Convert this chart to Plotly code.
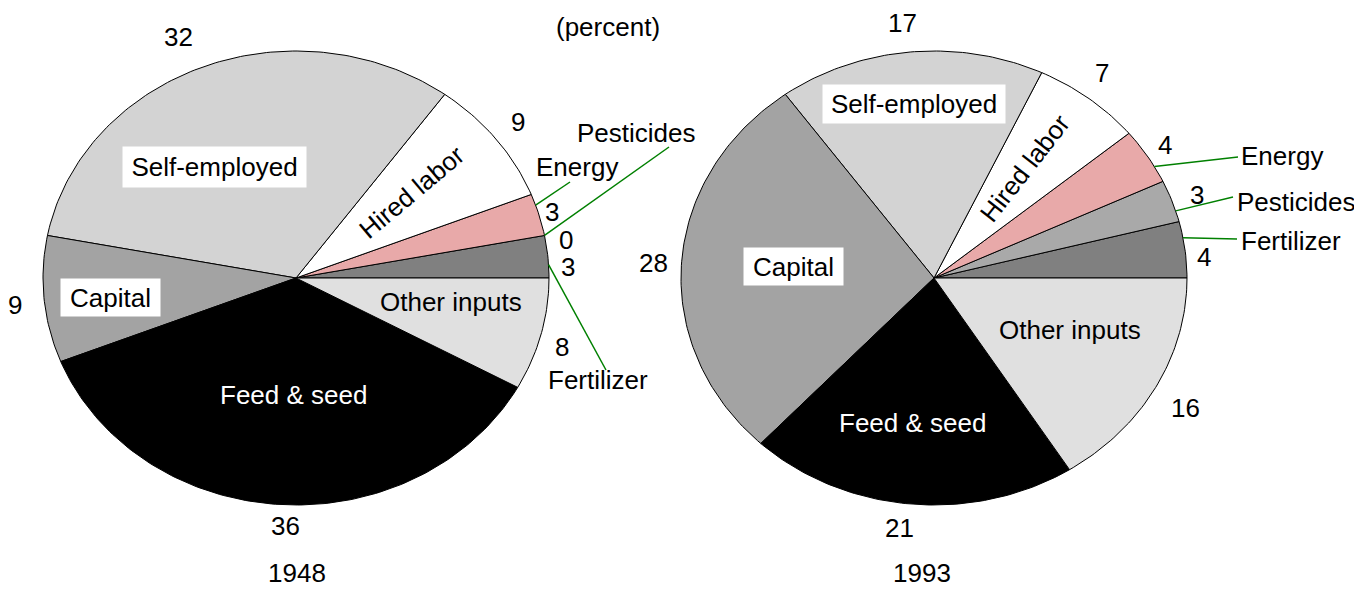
import math
import plotly.graph_objects as go

# ---------------- data ----------------
categories = ["Fertilizer", "Pesticides", "Energy", "Hired labor",
              "Self-employed", "Capital", "Feed & seed", "Other inputs"]
shares_1948 = [3, 0, 3, 9, 32, 9, 36, 8]
shares_1993 = [4, 3, 4, 7, 17, 28, 21, 16]
year_labels = ["1948", "1993"]
unit_label = "(percent)"

# ---------------- style / layout ----------------
W, H = 1362, 589
OFF = 8  # page body margin of the html page
FONT = "Arial, 'Liberation Sans', sans-serif"
FS = 26
slice_colors = ["#808080", "#a9a9a9", "#e8a9a9", "#ffffff",
                "#d3d3d3", "#a3a3a3", "#000000", "#e0e0e0"]
pies = [dict(cx=296, cy=278, rx=253, ry=227),
        dict(cx=934, cy=278, rx=253, ry=227)]
year_x = [297, 922]
unit_pos = (608, 27)
value_gap = 28
value_nudge = [
    {"Fertilizer": (-8, 13), "Pesticides": (-6, 10), "Energy": (-14, 5),
     "Hired labor": (0, 0), "Self-employed": (-14, -4), "Capital": (-1, 3),
     "Feed & seed": (7, -7), "Other inputs": (-6, 6)},
    {"Fertilizer": (-9, 11), "Pesticides": (-1, 3), "Energy": (-6, 4),
     "Hired labor": (-4, -4), "Self-employed": (-5, -1), "Capital": (0, 1),
     "Feed & seed": (-8, -4), "Other inputs": (5, 7)},
]
# name label styles per pie
name_styles = [
    {
        "Self-employed": dict(kind="box", x=214, y=167, w=183, h=40),
        "Capital": dict(kind="box", x=110, y=297, w=99, h=37),
        "Other inputs": dict(kind="plain", x=451, y=302, color="black"),
        "Feed & seed": dict(kind="plain", x=293, y=395, color="white"),
        "Hired labor": dict(kind="rot", x=412, y=192, angle=-40),
        "Energy": dict(kind="call", x=534, y=167, lx=570, ly=182, da=2.5),
        "Pesticides": dict(kind="call", x=575, y=133, lx=669, ly=147, da=0),
        "Fertilizer": dict(kind="call", x=546, y=380, lx=606, ly=370, da=-2),
    },
    {
        "Self-employed": dict(kind="box", x=914, y=104, w=182, h=38),
        "Capital": dict(kind="box", x=793, y=266, w=99, h=37),
        "Other inputs": dict(kind="plain", x=1070, y=330, color="black"),
        "Feed & seed": dict(kind="plain", x=912, y=423, color="white"),
        "Hired labor": dict(kind="rot", x=1025, y=168, angle=-52),
        "Energy": dict(kind="call", x=1239, y=156, lx=1238, ly=157, da=-3),
        "Pesticides": dict(kind="call", x=1235, y=202, lx=1233, ly=197, da=-2.6),
        "Fertilizer": dict(kind="call", x=1239, y=241, lx=1237, ly=239, da=3),
    },
]
LEADER_COLOR = "#008000"


def edge(p, ang, extra=0.0):
    r = math.radians(ang)
    return (p["cx"] + (p["rx"] + extra) * math.cos(r),
            p["cy"] - (p["ry"] + extra) * math.sin(r))


fig = go.Figure()
annotations = []
shapes = []

for pi, shares in enumerate([shares_1948, shares_1993]):
    p = pies[pi]
    total = float(sum(shares))
    start = 0.0
    for ci, (cat, v) in enumerate(zip(categories, shares)):
        span = 360.0 * v / total
        a0, a1 = start, start + span
        mid = (a0 + a1) / 2
        start = a1
        if v > 0:
            n = max(2, int(math.ceil(span / 1.0)) + 1)
            xs, ys = [p["cx"]], [p["cy"]]
            for k in range(n):
                ex, ey = edge(p, a0 + span * k / (n - 1))
                xs.append(ex)
                ys.append(ey)
            xs.append(p["cx"])
            ys.append(p["cy"])
            fig.add_trace(go.Scatter(
                x=xs, y=ys, mode="lines", fill="toself",
                fillcolor=slice_colors[ci],
                line=dict(color="black", width=1),
                hoverinfo="skip", showlegend=False))
        # value label
        vx, vy = edge(p, mid, value_gap)
        nx, ny = value_nudge[pi][cat]
        annotations.append(dict(
            x=vx + nx, y=vy + ny, xref="x", yref="y", text=str(v),
            showarrow=False, xanchor="center", yanchor="middle",
            font=dict(family=FONT, size=FS, color="black")))
        # name label
        st = name_styles[pi][cat]
        if st["kind"] == "box":
            annotations.append(dict(
                x=st["x"], y=st["y"], xref="x", yref="y", text=cat,
                showarrow=False, xanchor="center", yanchor="middle",
                width=st["w"], height=st["h"], bgcolor="white", borderpad=0,
                align="center", valign="middle",
                font=dict(family=FONT, size=FS, color="black")))
        elif st["kind"] == "plain":
            annotations.append(dict(
                x=st["x"], y=st["y"], xref="x", yref="y", text=cat,
                showarrow=False, xanchor="center", yanchor="middle",
                font=dict(family=FONT, size=FS, color=st["color"])))
        elif st["kind"] == "rot":
            annotations.append(dict(
                x=st["x"], y=st["y"], xref="x", yref="y", text=cat,
                showarrow=False, xanchor="center", yanchor="middle",
                textangle=st["angle"],
                font=dict(family=FONT, size=FS, color="black")))
        else:
            annotations.append(dict(
                x=st["x"], y=st["y"], xref="x", yref="y", text=cat,
                showarrow=False, xanchor="left", yanchor="middle",
                font=dict(family=FONT, size=FS, color="black")))
            sx, sy = edge(p, mid + st["da"])
            shapes.append(dict(
                type="line", xref="x", yref="y", x0=sx, y0=sy,
                x1=st["lx"], y1=st["ly"],
                line=dict(color=LEADER_COLOR, width=1.5)))

for yi, yl in enumerate(year_labels):
    annotations.append(dict(
        x=year_x[yi], y=H, xref="x", yref="y", text=yl,
        showarrow=False, xanchor="center", yanchor="bottom", borderpad=0,
        font=dict(family=FONT, size=FS, color="black")))

annotations.append(dict(
    x=unit_pos[0], y=unit_pos[1], xref="x", yref="y", text=unit_label,
    showarrow=False, xanchor="center", yanchor="middle",
    font=dict(family=FONT, size=FS, color="black")))

fig.update_layout(
    width=W - OFF, height=H - OFF,
    margin=dict(l=0, r=0, t=0, b=0),
    paper_bgcolor="white", plot_bgcolor="white",
    showlegend=False,
    xaxis=dict(range=[OFF, W], visible=False, fixedrange=True),
    yaxis=dict(range=[H, OFF], visible=False, fixedrange=True),
    annotations=annotations,
    shapes=shapes,
)

fig.write_html("out.html")
